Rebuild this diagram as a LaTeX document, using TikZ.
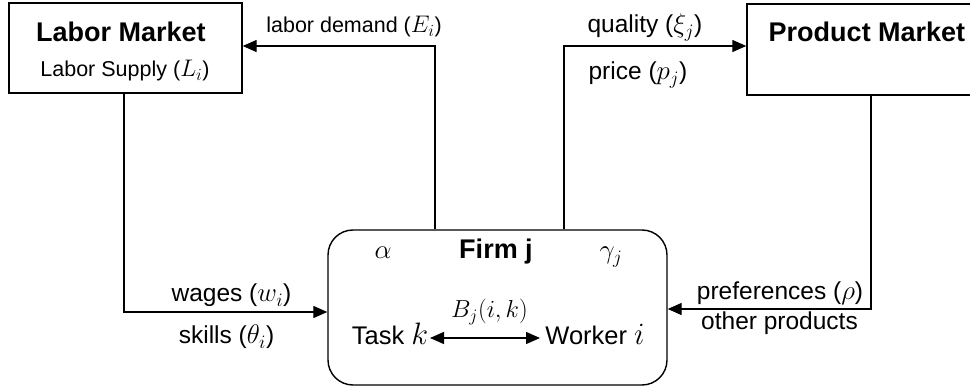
\RequirePackage{fix-cm}
\documentclass[tikz,border=0pt]{standalone}
\usepackage{fontspec}
\setmainfont{Liberation Sans}
\usetikzlibrary{arrows.meta}
% math a little larger than the surrounding sans text
\DeclareMathSizes{24.5}{27}{19}{14}
\DeclareMathSizes{21.5}{24}{17}{12}
\DeclareMathSizes{25.5}{31}{21}{15}
\DeclareMathSizes{23}{24.6}{17.5}{12.5}
\begin{document}
\begin{tikzpicture}[x=1pt,y=-1pt,
  market/.style={draw, line width=1.4pt, inner sep=0pt},
  firmbox/.style={draw, line width=1.4pt, rounded corners=25pt, inner sep=0pt},
  flow/.style={line width=1.3pt, -{Triangle[length=14pt,width=12pt]}},
  link/.style={line width=1.3pt, {Triangle[length=14pt,width=12pt]}-{Triangle[length=14pt,width=12pt]}},
  lbl/.style={inner sep=0pt, anchor=base, font=\fontsize{24.5}{28}\selectfont},
  small/.style={inner sep=0pt, anchor=base, font=\fontsize{21.5}{25}\selectfont},
  role/.style={inner sep=0pt, anchor=base, font=\fontsize{25.5}{30}\selectfont},
  match/.style={inner sep=0pt, anchor=base, font=\fontsize{23}{27}\selectfont},
  head/.style={inner sep=0pt, anchor=base, font=\fontsize{27}{32}\selectfont\bfseries}]
\useasboundingbox (0,0) rectangle (970,387);

% the three boxes
\node[market, minimum width=233pt, minimum height=90pt] (labor) at (125.5,48) {};
\node[market, minimum width=240pt, minimum height=91pt] (product) at (867,49.5) {};
\node[firmbox, minimum width=339pt, minimum height=155pt] (firm) at (497.5,307.5) {};

% box texts
\node[head] (lmtitle) at (121,42) {Labor Market};
\node[small] (lsupply) at (125,77) {Labor Supply ($L_i$)};
\node[head] (pmtitle) at (867,42) {Product Market};
\node[head] (fmtitle) at (496,259) {Firm j};
\node[lbl] (alpha) at (383,259) {$\alpha$};
\node[lbl] (gamma) at (611,259) {$\gamma_j$};

% inside the firm
\node[role] (task) at (390,345) {Task $k$};
\node[role] (worker) at (595,345) {Worker $i$};
\coordinate (tk) at (430,338);
\coordinate (wk) at (540,338);
\draw[link] (tk) -- (wk);
\node[match] (bjik) at (489.5,318) {$B_j(i,k)$};

% flows between the firm and the markets
\draw[flow] ([xshift=-62.5pt]firm.north) |- ([yshift=2pt]labor.east);
\draw[flow] ([xshift=66.5pt]firm.north) |- ([yshift=3.5pt]product.west);
\draw[flow] ([xshift=-1.5pt]labor.south) |- ([yshift=-4.5pt]firm.west);
\draw[flow] ([xshift=4pt]product.south) |- ([yshift=-1.5pt]firm.east);

% flow labels
\node[small] (ldemand) at (354,33) {labor demand ($E_i$)};
\node[lbl] (quality) at (645,33) {quality ($\xi_j$)};
\node[lbl] (price) at (638,80) {price ($p_j$)};
\node[lbl] (wages) at (231.5,302) {wages ($w_i$)};
\node[lbl] (skills) at (226.5,344) {skills ($\theta_i$)};
\node[lbl] (prefs) at (780,300) {preferences ($\rho$)};
\node[lbl] (others) at (779.5,330) {other products};
\end{tikzpicture}
\end{document}
